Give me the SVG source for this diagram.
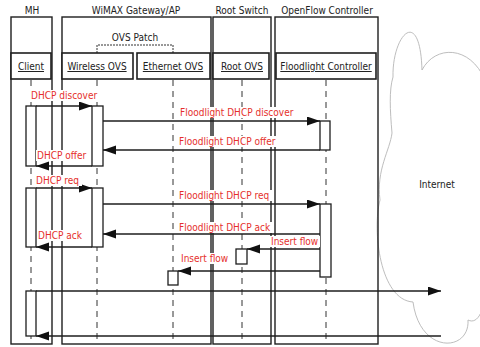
<svg xmlns="http://www.w3.org/2000/svg" width="480" height="347" viewBox="0 0 480 347">
<style>
text{font-family:"DejaVu Sans Condensed","DejaVu Sans",sans-serif;font-size:10px;fill:#222}
.t{text-anchor:middle}
.u{text-decoration:underline;text-anchor:middle}
.r{fill:#e5302c}
.frame{fill:none;stroke:#1e1e1e;stroke-width:1.4}
.head{fill:#fff;stroke:#1e1e1e;stroke-width:1.6}
.life{stroke:#333;stroke-width:1;stroke-dasharray:6 5;fill:none}
.act{fill:#fff;stroke:#1e1e1e;stroke-width:1.3}
.msg{stroke:#1e1e1e;stroke-width:1.3;fill:none;marker-end:url(#ah)}
.bg{fill:#fff}
</style>
<defs>
<marker id="ah" markerUnits="userSpaceOnUse" markerWidth="14" markerHeight="10" refX="13" refY="4.5" orient="auto">
<path d="M0,0 L13,4.5 L0,9 z" fill="#111"/>
</marker>
</defs>
<rect width="480" height="347" fill="#fff"/>
<g id="internet">
<path d="M393,77 C392,35 420,5 422,70 C435,45 470,45 485,80 L486,285 C485,310 478,325 468,320 C470,352 420,355 413,302 C380,300 372,230 380,200 C376,170 390,150 392,133 C390,110 389,90 393,77 Z" fill="none" stroke="#b5b5b5" stroke-width="0.9"/>
<text class="t" x="437" y="188">Internet</text>
</g>
<g id="mh">
<text class="t" x="32" y="14">MH</text>
<rect class="frame" x="11" y="17" width="41" height="327"/>
</g>
<g id="wimax">
<text class="t" x="136" y="14">WiMAX Gateway/AP</text>
<rect class="frame" x="62" y="17" width="149" height="327"/>
<text class="t" x="135" y="41">OVS Patch</text>
<path d="M97,53 V45 H173 V53" fill="none" stroke="#333" stroke-width="1" stroke-dasharray="2 1"/>
</g>
<g id="rootswitch">
<text class="t" x="242" y="14">Root Switch</text>
<rect class="frame" x="213" y="17" width="58" height="327"/>
</g>
<g id="ofc">
<text class="t" x="327" y="14">OpenFlow Controller</text>
<rect class="frame" x="275" y="17" width="103" height="327"/>
</g>
<g id="client">
<rect class="head" x="11" y="53" width="40" height="26"/>
<text class="u" x="31" y="70">Client</text>
<line class="life" x1="31" y1="80" x2="31" y2="344"/>
</g>
<g id="wireless-ovs">
<rect class="head" x="62" y="53" width="71" height="26"/>
<text class="u" x="97" y="70">Wireless OVS</text>
<line class="life" x1="97" y1="80" x2="97" y2="344"/>
</g>
<g id="ethernet-ovs">
<rect class="head" x="137" y="53" width="73" height="26"/>
<text class="u" x="173" y="70">Ethernet OVS</text>
<line class="life" x1="173" y1="80" x2="173" y2="344"/>
</g>
<g id="root-ovs">
<rect class="head" x="213" y="53" width="56" height="26"/>
<text class="u" x="242" y="70">Root OVS</text>
<line class="life" x1="242" y1="80" x2="242" y2="344"/>
</g>
<g id="floodlight">
<rect class="head" x="276" y="53" width="100" height="26"/>
<text class="u" x="326" y="70">Floodlight Controller</text>
<line class="life" x1="326" y1="80" x2="326" y2="344"/>
</g>
<g id="activations">
<rect class="act" x="26" y="106" width="10" height="60"/>
<rect class="act" x="92" y="106" width="11" height="60"/>
<rect class="act" x="320" y="121" width="10" height="29"/>
<rect class="act" x="26" y="188" width="10" height="59"/>
<rect class="act" x="92" y="188" width="11" height="59"/>
<rect class="act" x="320" y="204" width="11" height="73"/>
<rect class="act" x="236" y="249" width="11" height="15"/>
<rect class="act" x="168" y="271" width="10" height="14"/>
<rect class="act" x="26" y="291" width="10" height="45"/>
</g>
<g id="connectors">
<line class="msg" x1="36" y1="106" x2="92" y2="106"/>
<line class="msg" x1="103" y1="121" x2="320" y2="121"/>
<line class="msg" x1="320" y1="150" x2="103" y2="150"/>
<line class="msg" x1="92" y1="166" x2="36" y2="166"/>
<line class="msg" x1="36" y1="188" x2="92" y2="188"/>
<line class="msg" x1="103" y1="204" x2="320" y2="204"/>
<line class="msg" x1="320" y1="234" x2="103" y2="234"/>
<line class="msg" x1="92" y1="247" x2="36" y2="247"/>
<line class="msg" x1="320" y1="249" x2="247" y2="249"/>
<line class="msg" x1="320" y1="271" x2="178" y2="271"/>
<line class="msg" x1="36" y1="291" x2="441" y2="291"/>
<line class="msg" x1="441" y1="336" x2="36" y2="336"/>
</g>
<g id="labels">
<rect class="bg" x="30" y="90" width="69" height="11"/>
<text class="r" x="31" y="99">DHCP discover</text>
<rect class="bg" x="179" y="107" width="118" height="11"/>
<text class="r" x="180" y="116">Floodlight DHCP discover</text>
<rect class="bg" x="178" y="136" width="101" height="11"/>
<text class="r" x="179" y="145">Floodlight DHCP offer</text>
<rect class="bg" x="36" y="150" width="53" height="11"/>
<text class="r" x="37" y="159">DHCP offer</text>
<rect class="bg" x="35" y="175" width="47" height="11"/>
<text class="r" x="36" y="184">DHCP req</text>
<rect class="bg" x="178" y="190" width="95" height="11"/>
<text class="r" x="179" y="199">Floodlight DHCP req</text>
<rect class="bg" x="178" y="222" width="95" height="11"/>
<text class="r" x="179" y="231">Floodlight DHCP ack</text>
<rect class="bg" x="37" y="230" width="47" height="11"/>
<text class="r" x="38" y="239">DHCP ack</text>
<rect class="bg" x="270" y="236" width="50" height="11"/>
<text class="r" x="271" y="245">Insert flow</text>
<rect class="bg" x="180" y="253" width="51" height="11"/>
<text class="r" x="181" y="262">Insert flow</text>
</g>
</svg>
